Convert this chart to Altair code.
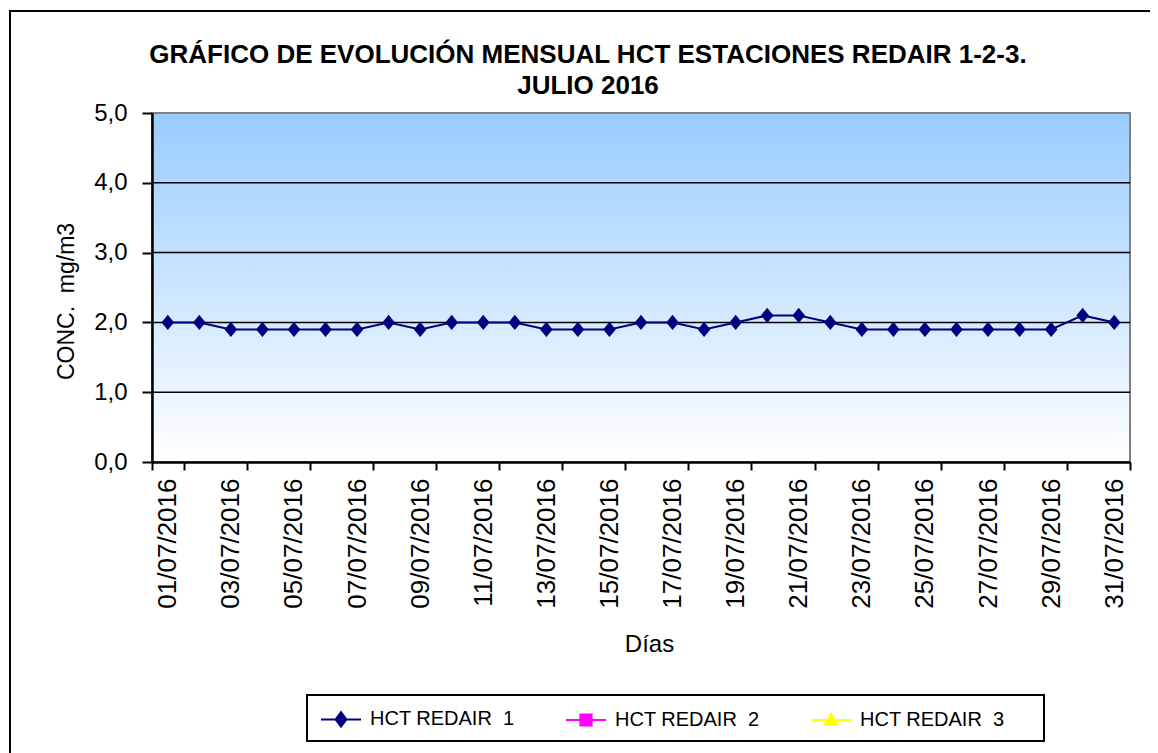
import altair as alt
import pandas as pd

FONT = "Liberation Sans"

DAYS = ["01/07/2016", "02/07/2016", "03/07/2016", "04/07/2016", "05/07/2016",
        "06/07/2016", "07/07/2016", "08/07/2016", "09/07/2016", "10/07/2016",
        "11/07/2016", "12/07/2016", "13/07/2016", "14/07/2016", "15/07/2016",
        "16/07/2016", "17/07/2016", "18/07/2016", "19/07/2016", "20/07/2016",
        "21/07/2016", "22/07/2016", "23/07/2016", "24/07/2016", "25/07/2016",
        "26/07/2016", "27/07/2016", "28/07/2016", "29/07/2016", "30/07/2016",
        "31/07/2016"]
HCT_REDAIR_1 = [2.0, 2.0, 1.9, 1.9, 1.9, 1.9, 1.9, 2.0, 1.9, 2.0,
                2.0, 2.0, 1.9, 1.9, 1.9, 2.0, 2.0, 1.9, 2.0, 2.1,
                2.1, 2.0, 1.9, 1.9, 1.9, 1.9, 1.9, 1.9, 1.9, 2.1,
                2.0]
SERIES = ["HCT REDAIR\u00a0 1", "HCT REDAIR\u00a0 2", "HCT REDAIR\u00a0 3"]
COLORS = ["#000080", "#FF00FF", "#FFFF00"]
LEGEND_SHAPES = [
    "M-1,0L1,0M0,-0.36L0.27,0L0,0.36L-0.27,0Z",
    "M-1,0L1,0M-0.28,-0.28L0.28,-0.28L0.28,0.28L-0.28,0.28Z",
    "M-1,0L1,0M0,-0.3L0.32,0.25L-0.32,0.25Z",
]
TITLE_LINES = ["GRÁFICO DE EVOLUCIÓN MENSUAL HCT ESTACIONES REDAIR 1-2-3.", "JULIO 2016"]
Y_TICKS = [0, 1, 2, 3, 4, 5]
GRID_VALUES = [1, 2, 3, 4]
X_LABELS = DAYS[::2]

W, H = 978, 349

df = pd.DataFrame({"dia": DAYS, "valor": HCT_REDAIR_1})
grid_df = pd.DataFrame({"valor": GRID_VALUES})
leg_df = pd.DataFrame({"serie": SERIES})
one = pd.DataFrame({"a": [0]})

x_enc = alt.X(
    "dia:O", sort=DAYS,
    scale=alt.Scale(type="band", paddingInner=0, paddingOuter=0),
    axis=alt.Axis(
        values=X_LABELS, title="Días", labelAngle=-90, labelFont=FONT,
        labelFontSize=26, labelColor="black", labelPadding=8,
        tickBand="extent", tickExtra=False, tickSize=8, tickWidth=2,
        tickColor="black", domainColor="black", domainWidth=2.5, grid=False,
        titleFont=FONT, titleFontSize=24, titleFontWeight="normal",
        titleColor="black", titleX=497, titleY=189, titleBaseline="alphabetic",
        labelOverlap=False, zindex=1,
    ),
)
y_scale = alt.Scale(domain=[0, 5], nice=False, zero=True)
y_enc = alt.Y(
    "valor:Q",
    scale=y_scale,
    axis=alt.Axis(
        values=Y_TICKS,
        labelExpr="replace(format(datum.value, '.1f'), '.', ',')",
        labelFont=FONT, labelFontSize=24, labelColor="black", labelPadding=15,
        tickSize=10, tickWidth=2, tickColor="black",
        domainColor="black", domainWidth=2.5, grid=False,
        title="CONC.\u00a0 mg/m3", titleFont=FONT, titleFontSize=23,
        titleFontWeight="normal", titleColor="black",
        titleX=-86, titleY=188, titleBaseline="middle", titleAlign="center",
        zindex=1,
    ),
)

gradient = alt.LinearGradient(
    gradient="linear",
    stops=[alt.GradientStop(color="#99CCFF", offset=0),
           alt.GradientStop(color="#FFFFFF", offset=1)],
    x1=0, x2=0, y1=0, y2=1,
)

frame = alt.Chart(one).mark_rect(fill="transparent", stroke="black", strokeWidth=2).encode(
    x=alt.value(-142), x2=alt.value(1010), y=alt.value(-102), y2=alt.value(650)
)
title1 = alt.Chart(one).mark_text(
    font=FONT, fontSize=26, fontWeight="bold", color="black",
    align="center", baseline="alphabetic",
).encode(x=alt.value(436), y=alt.value(-50), text=alt.value(TITLE_LINES[0]))
title2 = alt.Chart(one).mark_text(
    font=FONT, fontSize=26, fontWeight="bold", color="black",
    align="center", baseline="alphabetic",
).encode(x=alt.value(436), y=alt.value(-19), text=alt.value(TITLE_LINES[1]))
plot_bg = alt.Chart(one).mark_rect(fill=gradient, stroke="#808080", strokeWidth=2).encode(
    x=alt.value(0), x2=alt.value(W), y=alt.value(0), y2=alt.value(H)
)
grid = alt.Chart(grid_df).mark_rule(color="black", strokeWidth=1.5).encode(
    y=y_enc, x=alt.value(0), x2=alt.value(W)
)
legend_box = alt.Chart(one).mark_rect(fill="white", stroke="black", strokeWidth=2).encode(
    x=alt.value(155), x2=alt.value(892), y=alt.value(582), y2=alt.value(628)
)

line = alt.Chart(df).mark_line(color="#000080", strokeWidth=2).encode(x=x_enc, y=y_enc)
points = alt.Chart(df).mark_point(
    filled=True, color="#000080", opacity=1,
    shape="M0,-1.2L1,0L0,1.2L-1,0Z", size=160,
).encode(x=x_enc, y=y_enc)

cscale = alt.Scale(domain=SERIES, range=COLORS)
leg = alt.Legend(
    title=None, orient="none", legendX=168, legendY=585, direction="horizontal",
    symbolSize=1600, symbolStrokeWidth=2, labelFont=FONT, labelFontSize=20,
    labelColor="black", labelOffset=8, columnPadding=47, padding=0,
    symbolOpacity=1,
)
legend_layer = alt.Chart(leg_df).mark_point(filled=True, opacity=1).encode(
    color=alt.Color("serie:N", scale=cscale, legend=leg),
    stroke=alt.Stroke("serie:N", scale=cscale, legend=leg),
    shape=alt.Shape("serie:N", scale=alt.Scale(domain=SERIES, range=LEGEND_SHAPES), legend=leg),
).transform_filter("false")

chart = alt.layer(
    frame, title1, title2, plot_bg, grid, legend_box, line, points, legend_layer
).properties(
    width=W, height=H,
    autosize=alt.AutoSizeParams(type="none"),
    padding={"left": 144, "top": 105, "right": 20, "bottom": 291},
    background="white",
).configure_view(
    stroke=None,
)

chart.save("out.html", embed_options={"renderer": "svg", "actions": False})
